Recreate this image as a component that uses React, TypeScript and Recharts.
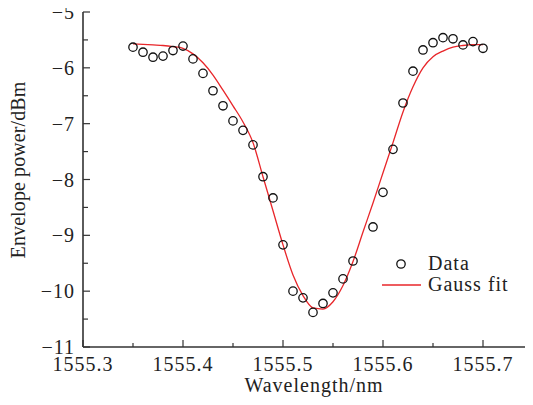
import { ComposedChart, Scatter, Line, XAxis, YAxis, Legend, Label } from "recharts";

// measured points (wavelength in nm, power in dBm)
const dataWavelength = [
  1555.35, 1555.36, 1555.37, 1555.38, 1555.39, 1555.4, 1555.41, 1555.42, 1555.43, 1555.44,
  1555.45, 1555.46, 1555.47, 1555.48, 1555.49, 1555.5, 1555.51, 1555.52, 1555.53, 1555.54,
  1555.55, 1555.56, 1555.57, 1555.59, 1555.6, 1555.61, 1555.62, 1555.63, 1555.64, 1555.65,
  1555.66, 1555.67, 1555.68, 1555.69, 1555.7,
];
const dataPower = [
  -5.63, -5.72, -5.81, -5.79, -5.69, -5.61, -5.84, -6.1, -6.41, -6.68,
  -6.95, -7.12, -7.38, -7.95, -8.33, -9.17, -10.0, -10.12, -10.38, -10.22,
  -10.03, -9.78, -9.46, -8.85, -8.23, -7.46, -6.63, -6.06, -5.68, -5.55,
  -5.46, -5.48, -5.59, -5.53, -5.65,
];

// gauss fit curve
const fitWavelength = [
  1555.35, 1555.36, 1555.37, 1555.38, 1555.39, 1555.4, 1555.41, 1555.42, 1555.43, 1555.44,
  1555.45, 1555.46, 1555.47, 1555.48, 1555.49, 1555.5, 1555.51, 1555.52, 1555.53, 1555.54,
  1555.55, 1555.56, 1555.57, 1555.58, 1555.59, 1555.6, 1555.61, 1555.62, 1555.63, 1555.64,
  1555.65, 1555.66, 1555.67, 1555.68, 1555.69, 1555.7,
];
const fitPower = [
  -5.57, -5.58, -5.59, -5.6, -5.62, -5.65, -5.75, -5.91, -6.13, -6.4,
  -6.68, -6.97, -7.34, -7.95, -8.56, -9.17, -9.71, -10.08, -10.3, -10.32,
  -10.19, -9.9, -9.47, -8.94, -8.42, -7.88, -7.34, -6.79, -6.34, -6.0,
  -5.8, -5.7, -5.63, -5.6, -5.585, -5.585,
];

const xMajor = [1555.3, 1555.4, 1555.5, 1555.6, 1555.7];
const xMinor = [1555.35, 1555.45, 1555.55, 1555.65];
const yMajor = [-5, -6, -7, -8, -9, -10, -11];
const yMinor = [-5.5, -6.5, -7.5, -8.5, -9.5, -10.5];
const topTicks = [1555.344, 1555.389, 1555.479, 1555.524, 1555.569, 1555.614, 1555.659, 1555.704];
const rightTicks = [-5.63, -6.2, -6.79, -7.38, -8.0, -8.59, -9.2, -9.79, -10.4];

const scatterData = dataWavelength.map((x, i) => ({ x, y: dataPower[i] }));
const fitData = fitWavelength.map((x, i) => ({ x, y: fitPower[i] }));

const FONT = "'Liberation Serif', 'Times New Roman', serif";
const AXIS = "#333";
const RED = "#e8262a";

const isIn = (v: number, arr: number[]) => arr.some((a) => Math.abs(a - v) < 1e-6);

const BottomTick = (props: any) => {
  const { x, y, payload } = props;
  const major = isIn(payload.value, xMajor);
  return (
    <g>
      <line x1={x} x2={x} y1={y} y2={y - (major ? 7 : 4)} stroke={AXIS} strokeWidth={1.2} />
      {major && (
        <text x={x} y={y + 24} textAnchor="middle" fontFamily={FONT} fontSize={20} letterSpacing={1} fill="#222">
          {payload.value.toFixed(1)}
        </text>
      )}
    </g>
  );
};

const LeftTick = (props: any) => {
  const { x, y, payload } = props;
  const major = isIn(payload.value, yMajor);
  return (
    <g>
      <line x1={x} x2={x + (major ? 7 : 5)} y1={y} y2={y} stroke={AXIS} strokeWidth={1.2} />
      {major && (
        <text x={x - 8} y={y} dy="0.35em" textAnchor="end" fontFamily={FONT} fontSize={20} letterSpacing={1} fill="#222">
          {"\u2212" + Math.abs(payload.value)}
        </text>
      )}
    </g>
  );
};

const TopTick = (props: any) => {
  const { x, y } = props;
  return <line x1={x} x2={x} y1={y} y2={y + 4} stroke={AXIS} strokeWidth={1.2} />;
};

const RightTick = (props: any) => {
  const { x, y, index } = props;
  return <line x1={x} x2={x - (index % 2 === 1 ? 7 : 3)} y1={y} y2={y} stroke={AXIS} strokeWidth={1.2} />;
};

const Circle = (props: any) => (
  <circle cx={props.cx} cy={props.cy} r={4.2} fill="none" stroke="#111" strokeWidth={1.3} />
);

const renderLegend = () => (
  <svg width={160} height={52}>
    <circle cx={23} cy={16} r={4.2} fill="none" stroke="#111" strokeWidth={1.3} />
    <text x={50} y={22} fontFamily={FONT} fontSize={20} letterSpacing={1} fill="#222">Data</text>
    <line x1={4} x2={43} y1={37} y2={37} stroke={RED} strokeWidth={1.3} />
    <text x={50} y={43} fontFamily={FONT} fontSize={20} letterSpacing={1} fill="#222">Gauss fit</text>
  </svg>
);

export default function App() {
  return (
    <ComposedChart width={525} height={397} margin={{ top: 4, right: 0, bottom: 0, left: 0 }}>
      <XAxis
        xAxisId="top"
        orientation="top"
        type="number"
        dataKey="x"
        domain={[1555.3, 1555.75]}
        ticks={topTicks}
        height={0}
        tickSize={0}
        tickMargin={0}
        tick={<TopTick />}
        tickLine={false}
        axisLine={{ stroke: AXIS, strokeWidth: 1.4 }}
        allowDataOverflow
      />
      <XAxis
        type="number"
        dataKey="x"
        domain={[1555.3, 1555.75]}
        ticks={[...xMajor, ...xMinor].sort((a, b) => a - b)}
        height={58}
        tickSize={0}
        tickMargin={0}
        tick={<BottomTick />}
        tickLine={false}
        interval={0}
        axisLine={{ stroke: AXIS, strokeWidth: 1.4 }}
        allowDataOverflow
      >
        <Label
          content={(p: any) => (
            <text
              x={p.viewBox.x + p.viewBox.width / 2 + 6}
              y={p.viewBox.y + 45}
              textAnchor="middle"
              fontFamily={FONT}
              fontSize={20}
              letterSpacing={1}
              fill="#222"
            >
              Wavelength/nm
            </text>
          )}
        />
      </XAxis>
      <YAxis
        type="number"
        domain={[-11, -5]}
        ticks={[...yMajor, ...yMinor].sort((a, b) => b - a)}
        width={75}
        tickSize={0}
        tickMargin={0}
        tick={<LeftTick />}
        tickLine={false}
        interval={0}
        axisLine={{ stroke: AXIS, strokeWidth: 1.6 }}
        allowDataOverflow
      >
        <Label
          content={(p: any) => {
            const cx = p.viewBox.x + 10;
            const cy = p.viewBox.y + p.viewBox.height / 2 - 9.5;
            return (
              <text
                x={cx}
                y={cy}
                dy="0.35em"
                transform={`rotate(-90 ${cx} ${cy})`}
                textAnchor="middle"
                fontFamily={FONT}
                fontSize={20}
                letterSpacing={0.1}
                fill="#222"
              >
                Envelope power/dBm
              </text>
            );
          }}
        />
      </YAxis>
      <YAxis
        yAxisId="right"
        orientation="right"
        type="number"
        domain={[-11, -5]}
        ticks={rightTicks}
        width={0}
        tickSize={0}
        tickMargin={0}
        tick={<RightTick />}
        tickLine={false}
        interval={0}
        axisLine={{ stroke: AXIS, strokeWidth: 1.4 }}
        allowDataOverflow
      />
      <Legend
        layout="horizontal"
        align="center"
        verticalAlign="middle"
        content={renderLegend}
        wrapperStyle={{ position: "absolute", left: 370, top: 240, width: 160, height: 52 }}
      />
      <Line
        data={fitData}
        dataKey="y"
        type="monotone"
        stroke={RED}
        strokeWidth={1.3}
        dot={false}
        activeDot={false}
        isAnimationActive={false}
      />
      <Scatter data={scatterData} dataKey="y" shape={<Circle />} isAnimationActive={false} />
    </ComposedChart>
  );
}
